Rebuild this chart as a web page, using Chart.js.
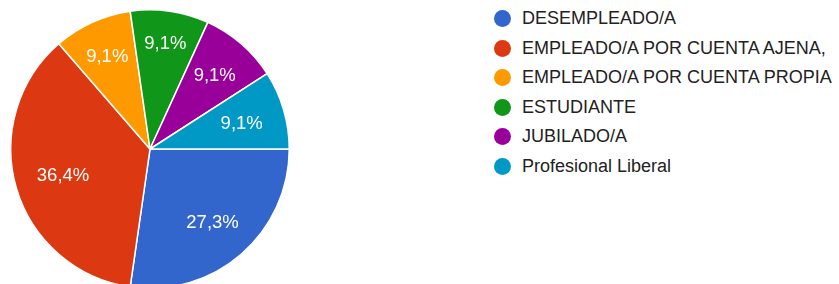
<!DOCTYPE html>
<html>
<head>
<meta charset="utf-8">
<script src="https://cdn.jsdelivr.net/npm/chart.js@4"></script>
<style>
  html, body { margin: 0; padding: 0; background: #ffffff; overflow: hidden; width: 839px; height: 284px; }
  #wrap { position: absolute; left: 0; top: 9px; width: 300px; height: 280px; }
  #legend { position: absolute; left: 494px; top: 4px; font-family: "Liberation Sans", Arial, sans-serif; font-size: 18px; color: #222222; }
  .item { height: 29.5px; display: flex; align-items: center; white-space: nowrap; }
  .dot { width: 17px; height: 17px; border-radius: 50%; margin-right: 11px; flex: none; }
</style>
</head>
<body>
<div id="wrap"><canvas id="c" width="300" height="280"></canvas></div>
<div id="legend"></div>
<script>
const categories = [
  "DESEMPLEADO/A",
  "EMPLEADO/A POR CUENTA AJENA,",
  "EMPLEADO/A POR CUENTA PROPIA",
  "ESTUDIANTE",
  "JUBILADO/A",
  "Profesional Liberal"
];
const percentages = [27.3, 36.4, 9.1, 9.1, 9.1, 9.1];
const colors = ["#3366cc", "#dc3912", "#ff9900", "#109618", "#990099", "#0099c6"];

const LABEL_FONT = 18.5;
const labelPlugin = {
  id: 'sliceLabels',
  afterDatasetsDraw(chart) {
    const ctx = chart.ctx;
    const meta = chart.getDatasetMeta(0);
    const data = chart.data.datasets[0].data;
    ctx.save();
    ctx.font = LABEL_FONT + 'px "Liberation Sans", Arial, sans-serif';
    ctx.fillStyle = '#ffffff';
    ctx.textAlign = 'center';
    ctx.textBaseline = 'alphabetic';
    const capH = LABEL_FONT * 0.716;
    meta.data.forEach((arc, i) => {
      const p = arc.getProps(['x', 'y', 'startAngle', 'endAngle', 'outerRadius'], true);
      const mid = (p.startAngle + p.endAngle) / 2;
      const txt = data[i].toFixed(1).replace('.', ',') + '%';
      const w = ctx.measureText(txt).width;
      const c = Math.cos(mid), s = Math.sin(mid);
      const d = 0.845 * p.outerRadius - (w / 2 * Math.abs(c) + capH / 2 * Math.abs(s));
      const lx = p.x + c * d, ly = p.y + s * d;
      ctx.fillText(txt, lx, ly + capH / 2);
    });
    ctx.restore();
  }
};

new Chart(document.getElementById('c'), {
  type: 'pie',
  data: {
    labels: categories,
    datasets: [{
      data: percentages,
      backgroundColor: colors,
      borderColor: '#ffffff',
      borderWidth: 1.5
    }]
  },
  options: {
    responsive: false,
    animation: false,
    rotation: 90,
    layout: { padding: 0 },
    plugins: { legend: { display: false }, tooltip: { enabled: false } }
  },
  plugins: [labelPlugin]
});

const legend = document.getElementById('legend');
categories.forEach((name, i) => {
  const row = document.createElement('div');
  row.className = 'item';
  const dot = document.createElement('span');
  dot.className = 'dot';
  dot.style.background = colors[i];
  const t = document.createElement('span');
  t.textContent = name;
  row.appendChild(dot);
  row.appendChild(t);
  legend.appendChild(row);
});
</script>
</body>
</html>
